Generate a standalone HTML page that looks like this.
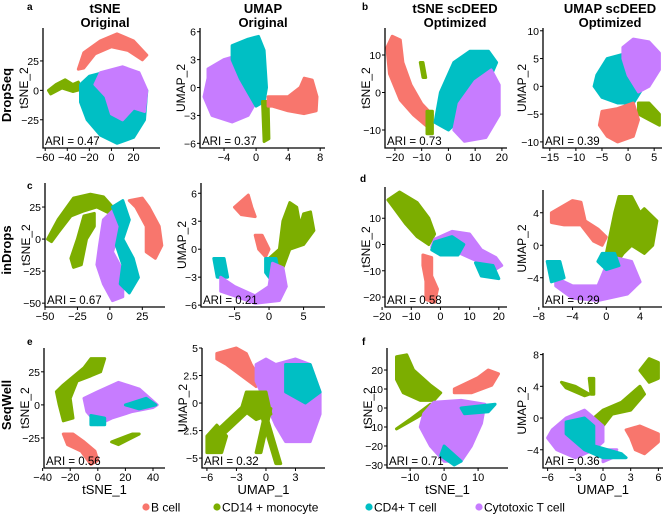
<!DOCTYPE html>
<html><head><meta charset="utf-8"><style>
body{margin:0;background:#fff}
svg{display:block;font-family:"Liberation Sans",Arial,sans-serif}
</style></head><body>
<svg id="fig" width="667" height="520" viewBox="0 0 667 520"></svg>
<script>
const NS="http://www.w3.org/2000/svg";
const COLORS={B:"#F8766D",G:"#7CAE00",C:"#00BFC4",P:"#C77CFF"};
// panel data: domains, ticks, ARI, cluster outlines in data units
const panelNames=["dropseq-tsne-original","dropseq-umap-original","dropseq-tsne-scdeed","dropseq-umap-scdeed","indrops-tsne-original","indrops-umap-original","indrops-tsne-scdeed","indrops-umap-scdeed","seqwell-tsne-original","seqwell-umap-original","seqwell-tsne-scdeed","seqwell-umap-scdeed"];
const xDomains=[[-62,44],[-7,8.6],[-23.7,21.9],[-16.3,6.5],[-50,42.5],[-9.85,8.1],[-19,22.8],[-7.5,6.6],[-39,48.7],[-6.5,6],[-16.8,18.8],[-6.5,6.5]];
const yDomains=[[-49,53],[-6.5,6.4],[-14.8,17.2],[-11.1,10.5],[-53,43.75],[-6.2,7.1],[-23.8,21.9],[-7.6,6.8],[-47.7,43],[-5.9,5],[-31.6,31.6],[-6.3,8.2]];
const xTicks=[[-60,-40,-20,0,20],[-4,0,4,8],[-20,-10,0,10,20],[-15,-10,-5,0,5],[-50,-25,0,25],[-5,0,5],[-20,-10,0,10,20],[-8,-4,0,4],[-40,-20,0,20,40],[-6,-3,0,3],[-10,0,10],[-6,-3,0,3,6]];
const yTicks=[[-25,0,25],[-6,-3,0,3,6],[-10,0,10],[-10,-5,0,5,10],[-50,-25,0,25],[-6,-3,0,3,6],[-20,-10,0,10],[-4,0,4],[-25,0,25],[-5,-2.5,0,2.5,5],[-30,-20,-10,0,10,20],[-4,0,4,8]];
const yTickLabels=[null,null,null,null,null,null,null,null,null,["−5","−2.5","0","2.5","5"],null,null];
const ariValues=["0.47","0.37","0.73","0.39","0.67","0.21","0.58","0.29","0.56","0.32","0.71","0.36"];
const clusters=[
 [["G",[[-57,0],[-50,5],[-42,9],[-35,5],[-30,7],[-27,1],[-35,-1],[-45,2],[-55,-3]]],
  ["B",[[-30,18],[-25,32],[-10,42],[5,48],[20,42],[32,30],[28,26],[15,34],[0,37],[-15,31],[-25,19]]],
  ["C",[[-28,5],[-20,12],[0,17],[20,14],[32,0],[30,-25],[20,-40],[5,-45],[-10,-38],[-22,-25],[-28,-10]]],
  ["P",[[-10,15],[10,20],[25,15],[32,0],[30,-18],[20,-15],[10,-25],[0,-20],[-5,-5],[-15,5]]]],
 [["P",[[-6,2],[-4,3],[-2,3.5],[-1,0],[0,-1.5],[-1,-3],[-3,-3.7],[-5.5,-3],[-6.5,-1],[-6,1]]],
  ["C",[[-3,4.5],[-1,5.2],[0.3,5.5],[1,4],[1.3,0],[1,-1.5],[0,-2],[-1,-0.5],[-2,1],[-3,3]]],
  ["G",[[0.8,-1.5],[1.5,-1.5],[1.6,-5.5],[1,-5.8]]],
  ["B",[[1.5,-1],[4,-1],[5.5,0],[6,1],[7,0.8],[7.6,-1],[7.5,-2.5],[6,-2.8],[4,-2.5],[2,-2],[1.5,-2]]]],
 [["B",[[-21,15],[-18,14],[-17,8],[-14,2],[-10,-3],[-6,-6],[-8,-9],[-13,-6],[-18,-2],[-22,5],[-23,12]]],
  ["G",[[-10.5,8],[-9.5,8],[-8.5,4],[-9.5,4]]],
  ["G",[[-8,-5],[-6,-5],[-6,-11],[-8,-11]]],
  ["C",[[-5,-8],[-3,0],[2,8],[8,11],[15,11],[18,8],[15,3],[8,-3],[3,-8],[0,-10]]],
  ["P",[[4,-3],[10,3],[16,6],[19,2],[19,-6],[14,-12],[6,-13],[2,-10]]]],
 [["C",[[-6,2],[-4,5],[0,6],[2,3],[3,0],[1,-3],[-2,-3],[-5,-2],[-6.5,0]]],
  ["P",[[-1,7],[1,8.5],[4,8],[6,6],[6,3],[4,0],[2,-1],[0,2],[-1,5]]],
  ["G",[[2,-3],[4,-3],[6,-5],[6,-7],[4,-6],[2,-5]]],
  ["B",[[-5,-4.5],[-2,-4],[1,-3],[2,-6],[1,-9],[-2,-10],[-4,-9],[-5.5,-7]]]],
 [["G",[[-48,0],[-40,15],[-28,32],[-15,35],[-5,33],[2,25],[0,20],[-10,25],[-20,22],[-30,18],[-40,5],[-45,-2]]],
  ["G",[[-20,18],[-12,20],[-12,10],[-18,0],[-22,-20],[-28,-22],[-30,-15],[-25,0]]],
  ["P",[[-8,-5],[-5,15],[2,22],[8,15],[5,0],[2,-10],[10,-25],[10,-45],[2,-48],[-5,-35],[-10,-20]]],
  ["C",[[2,25],[10,30],[15,15],[10,0],[18,-15],[22,-30],[15,-42],[8,-35],[10,-20],[5,-5],[8,10]]],
  ["B",[[15,30],[25,32],[30,25],[38,10],[40,-5],[35,-15],[28,-10],[28,10],[20,25]]]],
 [["B",[[-5,4.5],[-3,5.8],[-2.5,4.5],[-2,3.5],[-4,3.7]]],
  ["B",[[-2,1.5],[-1,1.5],[0,0],[-0.5,-0.8],[-1.5,0]]],
  ["G",[[0,-1],[1.5,0],[2,3],[3,5],[4,4.5],[4.5,2.5],[5,3.8],[6,4],[6.5,2],[5,0.5],[3,0],[2,-2],[1,-2]]],
  ["C",[[-0.5,-1],[1,-1],[1.5,-3],[0.5,-3.5],[-0.5,-2.5]]],
  ["C",[[-8,-1],[-6.5,-1],[-6,-3],[-7.5,-3]]],
  ["P",[[-7,-3],[-5,-4],[-2,-5],[0,-4],[0.5,-1.5],[2,-2],[2.5,-4],[1.5,-5.5],[-2,-5.8],[-5,-5],[-7,-4.5]]]],
 [["G",[[-18,17],[-14,20],[-8,16],[-4,10],[-2,4],[-4,0],[-8,3],[-12,8],[-16,14]]],
  ["P",[[-2,2],[4,5],[10,4],[14,-2],[19,-5],[21,-8],[18,-10],[12,-6],[6,-3],[0,-4],[-3,-1]]],
  ["C",[[-3,-2],[0,-4],[6,-4],[8,0],[4,3],[-2,1]]],
  ["C",[[12,-7],[18,-8],[20,-13],[14,-12]]],
  ["B",[[-6,-4],[-3,-5],[-3,-12],[-1,-17],[-2,-22],[-5,-21],[-5,-14],[-6,-8]]]],
 [["B",[[-6.5,4],[-4,5.5],[-3,5.3],[-2.5,3],[-1,2],[0,1],[-0.5,0],[-1.5,0.5],[-3,2.5],[-5,2.5],[-6.5,2.8]]],
  ["G",[[0,-1],[1,4],[1.5,6],[3,6],[4,4],[4.5,4.5],[6,3],[5.5,0],[4.5,-1],[3,0],[2,-1],[1,-2.5]]],
  ["P",[[-6,-4],[-4,-5],[-1,-5],[0,-2.5],[1,-1.5],[3,-2],[4,-4.5],[2.5,-6],[-1,-6.8],[-4,-6.5],[-6,-5]]],
  ["C",[[-0.5,-1],[1,-1],[1.5,-2.5],[0,-3],[-1,-2]]],
  ["C",[[-7,-2],[-5.5,-2],[-5,-4],[-6.5,-4.5]]]],
 [["G",[[-25,15],[-10,28],[-5,35],[5,35],[2,25],[-5,22],[-15,18],[-20,5],[-18,-10],[-25,-12],[-28,0],[-30,10]]],
  ["B",[[-25,-22],[-18,-22],[-10,-28],[-2,-35],[0,-42],[-5,-45],[-12,-35],[-22,-30]]],
  ["G",[[10,-28],[25,-22],[30,-22],[15,-30]]],
  ["P",[[-10,5],[0,10],[15,17],[30,12],[43,0],[40,-2],[25,-5],[10,-10],[0,-15],[-8,-5]]],
  ["C",[[20,0],[35,5],[42,0],[30,-3]]],
  ["C",[[-5,-8],[5,-10],[5,-15],[-5,-15]]]],
 [["B",[[-5,4.5],[-3,5],[-2,4.5],[-1.5,3.5],[-0.5,2],[-1,1.5],[-2.5,2.5],[-4,3.5],[-5,4]]],
  ["P",[[-1,3.5],[0,4],[1,3.5],[3,4],[4.5,3.5],[5.5,1],[5.5,-1],[4.5,-3.5],[2,-3.5],[1,-2],[0,0],[-1,2]]],
  ["C",[[2,3.5],[4.5,3.5],[5.5,1],[4,0],[2,1]]],
  ["G",[[-2,1],[0,1],[0.5,-1],[-1,-1.5],[-2.5,-0.5]]],
  ["G",[[-6,-3],[-5,-2],[-4,-3],[-4.5,-4.5],[-6,-4.5]]],
  ["G",[[-5,-2.5],[-2,0],[-1.5,-0.5],[-4.5,-3]]],
  ["G",[[0,-1],[1.5,-5.5],[1,-5.5],[-0.5,-1]]],
  ["G",[[0,-0.5],[-1,-4.5],[-0.5,-4.5],[0.5,-0.5]]]],
 [["G",[[-14,27],[-11,28],[-9,20],[-4,12],[-1,8],[-3,4],[-7,4],[-12,8],[-14,15]]],
  ["G",[[-14,-11],[-8,-5],[-2,2],[-4,2],[-10,-6]]],
  ["B",[[3,10],[10,16],[13,20],[16,18],[14,12],[8,8],[3,8]]],
  ["P",[[-6,-3],[-3,3],[5,4],[12,2],[11,-8],[8,-20],[5,-28],[0,-28],[-4,-20],[-7,-10]]],
  ["C",[[0,-20],[5,-28],[3,-30],[-1,-25]]],
  ["C",[[5,0],[15,2],[13,-2],[6,-3]]]],
 [["G",[[4,6],[5,7.5],[6,7],[6,5],[5,4.5]]],
  ["G",[[-1,0],[0,1],[2,2],[3,3],[4,4],[4.5,3],[3,1],[1,0.5],[0,-1],[-1,-1]]],
  ["G",[[-4.5,4.5],[-3,4],[-1.5,3],[-2,2.8],[-4,3.8]]],
  ["G",[[-1.5,5],[-1,5],[-1,3],[-1.3,3]]],
  ["B",[[2.5,-1.5],[4,-1],[6,-2],[6,-3],[4.5,-4.5],[3.5,-4],[3,-2.5]]],
  ["P",[[-5.5,-1.5],[-4,0],[-2,1],[-1,0],[0,-1],[0,-3],[-1,-4],[-3,-5],[-5,-4],[-6,-2.5]]],
  ["P",[[0,-4],[1.5,-4],[1,-5],[0,-5.5]]],
  ["C",[[-4,-0.5],[-2,0],[-1,-1],[-1,-3.5],[2,-4.5],[2.5,-5],[0,-5],[-2,-4],[-4,-2]]]]
];
// layout (pixel frames)
const frames=[[43,160,28,148],[200,325,28,148],[385,507,28,148],[543,662,28,148],
 [45,165,183,307],[201,325,183,307],[385,507,187,307],[543,662,190,307],
 [44,165,348,468],[202,325,348,468],[387,508,348,468],[543,663,353,468]];
const svg=document.getElementById("fig");
function el(tag,attrs,parent,text){const e=document.createElementNS(NS,tag);for(const k in attrs)e.setAttribute(k,attrs[k]);if(text!==undefined)e.textContent=text;(parent||svg).appendChild(e);return e;}
function fmt(v){return v<0?"\u2212"+Math.abs(v):String(v);}
panelNames.forEach((nm,i)=>{
  const [x0,x1,y0,y1]=frames[i];const xd=xDomains[i],yd=yDomains[i];
  const sx=v=>x0+(v-xd[0])/(xd[1]-xd[0])*(x1-x0);
  const sy=v=>y1-(v-yd[0])/(yd[1]-yd[0])*(y1-y0);
  const g=el("g",{});
  
  
  clusters[i].forEach(([c,pts],k)=>{
    const p=el("polygon",{points:pts.map(q=>sx(q[0]).toFixed(1)+","+sy(q[1]).toFixed(1)).join(" "),fill:COLORS[c],stroke:COLORS[c],"stroke-width":3,"stroke-linejoin":"round"},g);
    
    
  });
  const ax=el("path",{d:`M${x0},${y0}V${y1}H${x1}`,fill:"none",stroke:"#000","stroke-width":1.3},g);
  
  
  xTicks[i].forEach(t=>{const x=sx(t);el("line",{x1:x,x2:x,y1:y1,y2:y1+3,stroke:"#000"},g);
    const tl=el("text",{x:x,y:y1+13,"font-size":11,"text-anchor":"middle"},g,fmt(t));
    
    });
  yTicks[i].forEach((t,j)=>{const y=sy(t);el("line",{x1:x0-3,x2:x0,y1:y,y2:y,stroke:"#000"},g);
    const lab=yTickLabels[i]?yTickLabels[i][j]:fmt(t);
    const tl=el("text",{x:x0-4,y:y+4,"font-size":10.5,"text-anchor":"end"},g,lab);
    
    });
  const ar=el("text",{x:x0+2,y:y1-3,"font-size":11.5},g,"ARI = "+ariValues[i]);
  
  
  const col=i%4;const isT=col%2===0;
  const yl=el("text",{transform:`translate(${x0-(col===3?17:15)},${(y0+y1)/2}) rotate(-90)`,"font-size":12,"text-anchor":"middle"},g,isT?"tSNE_2":"UMAP_2");
  
  
  if(i>=8){const xl=el("text",{x:(x0+x1)/2,y:y1+26,"font-size":13,"text-anchor":"middle"},g,isT?"tSNE_1":"UMAP_1");
    
    }
});
</script>
<script>
const s2=document.getElementById("fig");
function T(x,y,txt,attrs,name){const e=document.createElementNS(NS,"text");e.setAttribute("x",x);e.setAttribute("y",y);for(const k in attrs)e.setAttribute(k,attrs[k]);e.textContent=txt;
 
 
 s2.appendChild(e);return e;}
const B={"font-weight":"bold","font-size":13,"text-anchor":"middle"};
T(105,13,"tSNE",B,"col-title-tsne-original");T(105,27,"Original",B,"col-title-tsne-original-2");
T(263,13,"UMAP",B,"col-title-umap-original");T(263,27,"Original",B,"col-title-umap-original-2");
T(455,13,"tSNE scDEED",B,"col-title-tsne-scdeed");T(455,27,"Optimized",B,"col-title-tsne-scdeed-2");
T(610,13,"UMAP scDEED",B,"col-title-umap-scdeed");T(610,27,"Optimized",B,"col-title-umap-scdeed-2");
const L={"font-weight":"bold","font-size":10};
T(27,10,"a",L,"panel-letter-a");T(362,10,"b",L,"panel-letter-b");T(27,189,"c",L,"panel-letter-c");
T(360,182,"d",L,"panel-letter-d");T(27,345,"e",L,"panel-letter-e");T(362,345,"f",L,"panel-letter-f");
const R={"font-weight":"bold","font-size":13,"text-anchor":"middle"};
T(0,0,"DropSeq",Object.assign({transform:"translate(11,95) rotate(-90)"},R),"row-label-dropseq");
T(0,0,"inDrops",Object.assign({transform:"translate(11,250) rotate(-90)"},R),"row-label-indrops");
T(0,0,"SeqWell",Object.assign({transform:"translate(11,405) rotate(-90)"},R),"row-label-seqwell");
const legendLabels=["B cell","CD14 + monocyte","CD4+ T cell","Cytotoxic T cell"];
const legendKeys=["B","G","C","P"];const legendX=[146,217,369,479];
legendLabels.forEach((lab,i)=>{
 const c=document.createElementNS(NS,"circle");c.setAttribute("cx",legendX[i]);c.setAttribute("cy",507);c.setAttribute("r",3.6);c.setAttribute("fill",COLORS[legendKeys[i]]);
 
 
 s2.appendChild(c);
 T(legendX[i]+5,511.5,lab,{"font-size":12},"legend-entry");
});
</script>
</body></html>
